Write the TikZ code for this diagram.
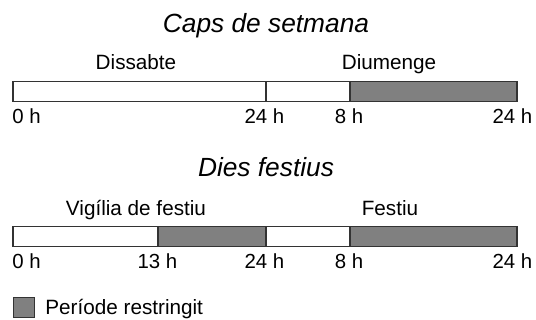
\documentclass[tikz,border=0pt]{standalone}
\usepackage{fontspec}
\setmainfont{Liberation Sans}
\begin{document}
\begin{tikzpicture}[x=1pt,y=-1pt,
                    thick,free/.style={draw=black!80,line width=1.3pt,fill=white},
                    restricted/.style={draw=black!80,line width=1.3pt,fill=black!50},
                    heading/.style={font=\fontsize{26.3}{30}\selectfont\itshape,anchor=base,inner sep=0pt},
                    daytext/.style={font=\fontsize{20.7}{24}\selectfont,anchor=base,inner sep=0pt},
                    hourtext/.style={font=\fontsize{20.4}{24}\selectfont,anchor=base,inner sep=0pt}
                    ]
    \useasboundingbox (0,0) rectangle (536,320);
    % weekend
    \node[heading] (weekend) at (266,33) {Caps de setmana};
    \node[daytext] (sat) at (136,70) {Dissabte};
    \node[daytext] (sun) at (389,70) {Diumenge};
    \draw[free] (13,81.5) rectangle (266,101.5);
    \draw[free] (266,81.5) rectangle (350,101.5);
    \draw[restricted] (350,81.5) rectangle (517,101.5);
    \node[hourtext,anchor=base west] (w0) at (12,124) {0 h};
    \node[hourtext] (w24) at (264.5,124) {24 h};
    \node[hourtext] (w8) at (349,124) {8 h};
    \node[hourtext] (w24b) at (512.5,124) {24 h};
    % holidays
    \node[heading] (holidays) at (266,177) {Dies festius};
    \node[daytext] (eve) at (136,216) {Vigília de festiu};
    \node[daytext] (hol) at (390,216) {Festiu};
    \draw[free] (13,226.5) rectangle (158,246.5);
    \draw[restricted] (158,226.5) rectangle (266,246.5);
    \draw[free] (266,226.5) rectangle (350,246.5);
    \draw[restricted] (350,226.5) rectangle (517,246.5);
    \node[hourtext,anchor=base west] (h0) at (12,269) {0 h};
    \node[hourtext] (h13) at (157.5,269) {13 h};
    \node[hourtext] (h24) at (264.5,269) {24 h};
    \node[hourtext] (h8) at (349,269) {8 h};
    \node[hourtext] (h24b) at (512.5,269) {24 h};
    % legend
    \draw[restricted] (13.5,297.5) rectangle (34.5,317.5);
    \node[daytext,anchor=base west] (legend) at (45,315) {Període restringit};
\end{tikzpicture}
\end{document}
